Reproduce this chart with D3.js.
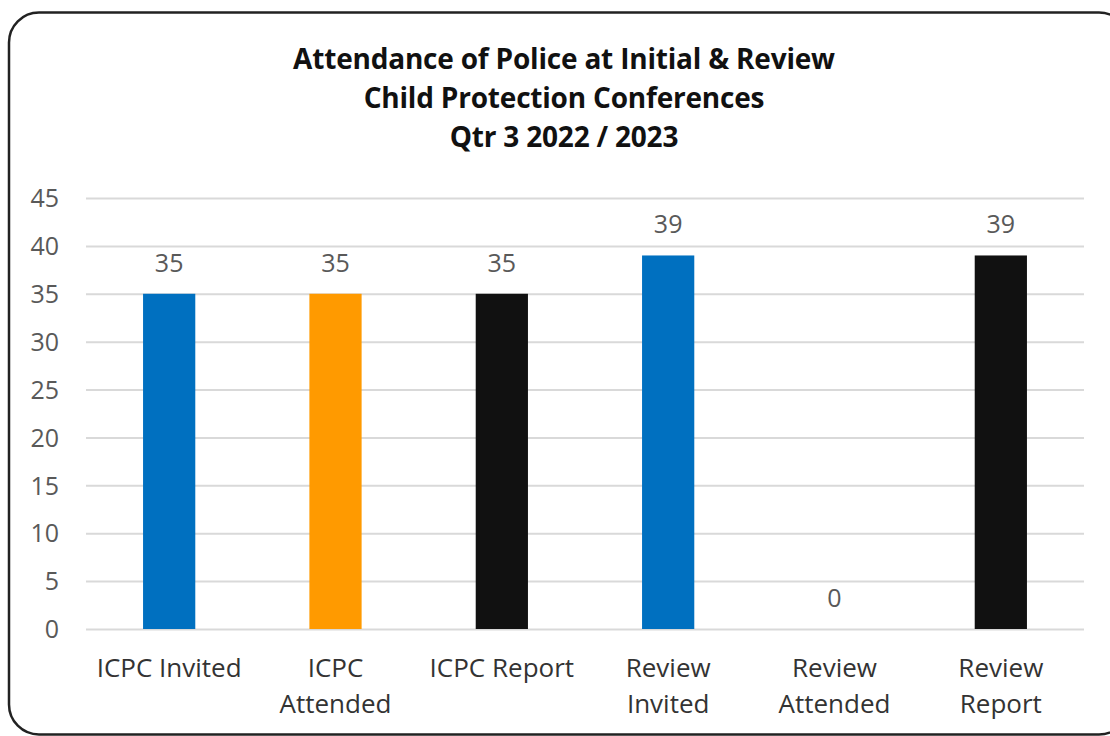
<!DOCTYPE html>
<html><head><meta charset="utf-8">
<script src="https://cdn.jsdelivr.net/npm/d3@7"></script>
<style>body{margin:0;background:#fff}svg{display:block}</style>
</head><body>
<svg id="c" width="1110" height="736"></svg>
<script>
const categories = [["ICPC Invited"],["ICPC","Attended"],["ICPC Report"],["Review","Invited"],["Review","Attended"],["Review","Report"]];
const values = [35, 35, 35, 39, 0, 39];
const colors = ["#0070C0", "#FF9A00", "#111111", "#0070C0", "#FF9A00", "#111111"];
const titleLines = ["Attendance of Police at Initial & Review", "Child Protection Conferences", "Qtr 3 2022 / 2023"];
const yTicks = [0,5,10,15,20,25,30,35,40,45];

const svg = d3.select("#c");
const font = "'Open Sans', sans-serif";
svg.append("rect").attr("x",9).attr("y",12.5).attr("width",1120).attr("height",722)
  .attr("rx",30).attr("fill","#fff").attr("stroke","#222").attr("stroke-width",2.5);

svg.append("g").selectAll("text").data(titleLines).join("text")
  .attr("x",564).attr("y",(d,i)=>69+i*39).attr("text-anchor","middle")
  .attr("font-family",font).attr("font-weight","bold").attr("font-size",28).attr("fill","#111")
  .attr("letter-spacing","-0.2px")
  .text(d=>d);

const x = d3.scaleBand().domain(d3.range(values.length)).range([86,1084]).paddingInner(0.686).paddingOuter(0.343);
const y = d3.scaleLinear().domain([0,45]).range([629,198]);

const yAxis = svg.append("g").attr("transform","translate(86,0)")
  .call(d3.axisLeft(y).tickValues(yTicks).tickSize(-998).tickPadding(27));
yAxis.select(".domain").remove();
yAxis.selectAll(".tick line").attr("stroke","#d9d9d9").attr("stroke-width",2);
yAxis.selectAll(".tick text").attr("font-family",font).attr("font-size",25).attr("fill","#595959").attr("dy","0.35em");

svg.append("g").selectAll("rect").data(values).join("rect")
  .attr("x",(d,i)=>x(i)).attr("width",x.bandwidth())
  .attr("y",d=>y(d)).attr("height",d=>y(0)-y(d)).attr("fill",(d,i)=>colors[i]);

svg.append("g").selectAll("text").data(values).join("text")
  .attr("x",(d,i)=>x(i)+x.bandwidth()/2).attr("y",d=>y(d)-22)
  .attr("text-anchor","middle").attr("font-family",font).attr("font-size",25).attr("fill","#595959")
  .text(d=>d);

const cat = svg.append("g").selectAll("text").data(categories).join("text")
  .attr("x",(d,i)=>x(i)+x.bandwidth()/2).attr("y",677)
  .attr("text-anchor","middle").attr("font-family",font).attr("font-size",26).attr("fill","#333");
cat.selectAll("tspan").data(d=>d).join("tspan")
  .attr("x",function(){return this.parentNode.getAttribute("x");})
  .attr("dy",(d,i)=>i?36:0).text(d=>d);
</script>
</body></html>
